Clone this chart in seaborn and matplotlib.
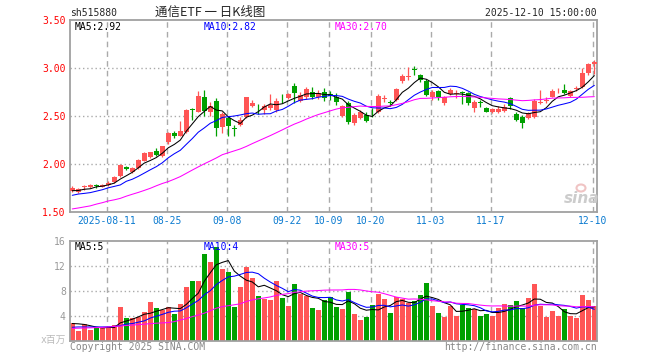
import matplotlib
matplotlib.use("Agg")
import matplotlib.pyplot as plt
from matplotlib.patches import Ellipse
import numpy as np
import pandas as pd
import seaborn as sns

# trading days 2025-08-01 .. 2025-12-10 (National Day holiday closed)
days = pd.bdate_range("2025-08-01", "2025-12-10")
days = days[(days < "2025-10-01") | (days > "2025-10-08")]

open_ = [1.725, 1.715, 1.759, 1.760, 1.780, 1.768, 1.780, 1.815, 1.880, 1.975,
         1.920, 1.960, 2.035, 2.080, 2.140, 2.090, 2.230, 2.325, 2.295, 2.340,
         2.580, 2.550, 2.700, 2.540, 2.660, 2.385, 2.480, 2.370, 2.410, 2.490,
         2.607, 2.590, 2.566, 2.583, 2.566, 2.690, 2.690, 2.815, 2.660, 2.697,
         2.757, 2.697, 2.757, 2.730, 2.705, 2.503, 2.640, 2.430, 2.486, 2.514,
         2.545, 2.550, 2.680, 2.645, 2.670, 2.865, 2.905, 2.990, 2.930, 2.870,
         2.698, 2.765, 2.635, 2.733, 2.735, 2.745, 2.746, 2.590, 2.645, 2.583,
         2.541, 2.545, 2.559, 2.687, 2.524, 2.496, 2.479, 2.496, 2.640, 2.660,
         2.705, 2.760, 2.774, 2.711, 2.785, 2.809, 2.955, 3.041]
high = [1.770, 1.750, 1.780, 1.790, 1.800, 1.790, 1.825, 1.880, 2.000, 1.980,
        1.975, 2.060, 2.130, 2.130, 2.165, 2.195, 2.340, 2.345, 2.450, 2.575,
        2.590, 2.760, 2.770, 2.650, 2.690, 2.550, 2.500, 2.410, 2.490, 2.705,
        2.675, 2.630, 2.630, 2.730, 2.687, 2.730, 2.745, 2.850, 2.756, 2.810,
        2.810, 2.770, 2.790, 2.760, 2.745, 2.617, 2.660, 2.530, 2.570, 2.540,
        2.585, 2.730, 2.720, 2.670, 2.790, 2.940, 3.010, 3.020, 2.945, 2.885,
        2.770, 2.770, 2.710, 2.790, 2.770, 2.760, 2.750, 2.670, 2.670, 2.600,
        2.590, 2.605, 2.625, 2.705, 2.548, 2.510, 2.548, 2.677, 2.770, 2.705,
        2.780, 2.790, 2.840, 2.774, 2.820, 2.998, 3.060, 3.090]
low = [1.710, 1.705, 1.735, 1.755, 1.755, 1.760, 1.770, 1.810, 1.870, 1.940,
       1.910, 1.950, 2.030, 2.070, 2.085, 2.080, 2.210, 2.270, 2.290, 2.325,
       2.460, 2.540, 2.500, 2.500, 2.300, 2.330, 2.295, 2.295, 2.400, 2.480,
       2.600, 2.525, 2.525, 2.565, 2.550, 2.640, 2.680, 2.640, 2.645, 2.680,
       2.680, 2.680, 2.660, 2.670, 2.620, 2.490, 2.420, 2.410, 2.470, 2.440,
       2.490, 2.535, 2.650, 2.610, 2.655, 2.850, 2.875, 2.935, 2.860, 2.710,
       2.670, 2.670, 2.620, 2.720, 2.690, 2.625, 2.620, 2.550, 2.600, 2.540,
       2.530, 2.535, 2.550, 2.580, 2.450, 2.375, 2.470, 2.480, 2.630, 2.635,
       2.700, 2.740, 2.735, 2.705, 2.760, 2.800, 2.930, 2.940]
close = [1.750, 1.745, 1.776, 1.780, 1.775, 1.785, 1.810, 1.870, 1.990, 1.948,
         1.965, 2.045, 2.115, 2.125, 2.100, 2.190, 2.330, 2.290, 2.350, 2.565,
         2.570, 2.710, 2.560, 2.610, 2.375, 2.525, 2.400, 2.365, 2.460, 2.700,
         2.635, 2.583, 2.607, 2.617, 2.659, 2.687, 2.729, 2.745, 2.722, 2.781,
         2.705, 2.739, 2.687, 2.710, 2.653, 2.607, 2.444, 2.515, 2.541, 2.451,
         2.541, 2.713, 2.690, 2.640, 2.780, 2.925, 2.925, 2.985, 2.875, 2.720,
         2.752, 2.705, 2.698, 2.774, 2.740, 2.740, 2.635, 2.652, 2.642, 2.548,
         2.576, 2.572, 2.600, 2.607, 2.461, 2.434, 2.531, 2.663, 2.650, 2.670,
         2.767, 2.766, 2.746, 2.767, 2.790, 2.948, 3.045, 3.069]
# volume, millions of shares
volume = [2.77, 1.60, 2.60, 1.70, 2.24, 2.08, 2.00, 2.50, 5.44, 3.68,
          3.57, 3.84, 4.64, 6.24, 5.28, 4.90, 5.33, 4.27, 5.87, 8.64,
          9.60, 9.60, 13.87, 12.64, 15.04, 11.52, 11.04, 5.44, 8.64, 11.79,
          10.08, 7.15, 6.67, 6.50, 9.60, 6.88, 5.60, 9.07, 7.47, 7.20,
          5.28, 4.90, 6.50, 6.93, 5.44, 5.12, 7.84, 4.27, 3.31, 3.84,
          5.71, 7.47, 6.67, 4.48, 6.93, 6.67, 5.97, 6.40, 7.31, 9.28,
          5.55, 4.48, 3.84, 5.55, 4.00, 5.71, 5.28, 5.01, 4.00, 4.27,
          4.00, 5.28, 5.87, 5.71, 6.40, 5.28, 6.88, 9.07, 5.55, 3.84,
          4.80, 4.00, 5.01, 4.00, 3.68, 7.31, 6.50, 5.55]

# moving averages before the window is full (history outside the chart)
price_ma5_head = [1.725, 1.727, 1.740, 1.745]
price_ma10_head = [1.677, 1.690, 1.697, 1.705, 1.720, 1.735, 1.755, 1.770, 1.785]
price_ma30_head = [1.535, 1.545, 1.556, 1.567, 1.585, 1.600, 1.618, 1.630, 1.645, 1.668,
                   1.688, 1.707, 1.728, 1.750, 1.776, 1.800, 1.820, 1.845, 1.872, 1.906,
                   1.940, 1.973, 2.005, 2.035, 2.066, 2.100, 2.120, 2.140, 2.160]
vol_ma5_head = [2.75, 2.70, 2.60, 2.40]
vol_ma10_head = [2.15, 2.20, 2.20, 2.20, 2.20, 2.20, 2.22, 2.30, 2.40]
vol_ma30_head = [1.97, 2.00, 2.03, 2.06, 2.10, 2.13, 2.20, 2.27, 2.35, 2.43,
                 2.50, 2.57, 2.65, 2.73, 2.80, 2.85, 2.90, 3.05, 3.30, 3.55,
                 3.85, 4.10, 4.40, 4.80, 5.20, 5.45, 5.60, 5.75, 5.90]

tick_dates = ["2025-08-11", "2025-08-25", "2025-09-08", "2025-09-22", "2025-10-09",
              "2025-10-20", "2025-11-03", "2025-11-17", "2025-12-10"]
price_ticks = [1.5, 2.0, 2.5, 3.0, 3.5]
vol_ticks = [4, 8, 12, 16]
price_ma_labels = ["MA5:2.92", "MA10:2.82", "MA30:2.70"]
vol_ma_labels = ["MA5:5", "MA10:4", "MA30:5"]

RED, GREEN = "#ff5555", "#00a000"
MA_COLORS = ["black", "#0000ff", "#ff00ff"]
GRID = "#aaaaaa"
MONO = "DejaVu Sans Mono"


def moving(values, n, head):
    ma = pd.Series(values).rolling(n).mean().to_numpy()
    ma[:n - 1] = head
    return ma


df = pd.DataFrame(dict(open=open_, high=high, low=low, close=close, vol=volume))
df["i"] = np.arange(len(df))
df["up"] = df["close"] >= df["open"]
colors = np.where(df["up"], RED, GREEN)

price_ma = [moving(close, 5, price_ma5_head), moving(close, 10, price_ma10_head),
            moving(close, 30, price_ma30_head)]
vol_ma = [moving(volume, 5, vol_ma5_head), moving(volume, 10, vol_ma10_head),
          moving(volume, 30, vol_ma30_head)]

sns.set_theme(style="white")
plt.rcParams["font.family"] = [MONO, "Noto Sans CJK SC"]

W, H = 660, 360
fig = plt.figure(figsize=(W / 100, H / 100), dpi=100)
L, R = 70, 597
ax = fig.add_axes([L / W, 1 - 212.3 / H, (R - L) / W, 192 / H])
axv = fig.add_axes([L / W, 1 - 340.7 / H, (R - L) / W, 100 / H])

tick_pos = [days.get_loc(pd.Timestamp(d)) for d in tick_dates]
tick_lab = [tick_dates[0]] + [d[5:] for d in tick_dates[1:]]

for a in (ax, axv):
    a.set_xlim(-0.38, len(df) - 0.55)
    for p in tick_pos:
        a.axvline(p - 0.25, color=GRID, lw=1, ls=(0, (4, 3)), zorder=0)
    for s in a.spines.values():
        s.set_color("#a0a0a0")
        s.set_linewidth(1.3)
    a.set_xticks([])
    a.tick_params(axis="y", length=0, pad=3, labelsize=7)

# candles
ax.vlines(df["i"], df["low"], df["high"], colors=colors, lw=0.9, zorder=2)
body = np.maximum((df["close"] - df["open"]).abs(), 0.008)
ax.bar(df["i"], body, bottom=np.minimum(df["open"], df["close"]), width=0.75,
       color=colors, lw=0, zorder=3)
for ma, c in zip(price_ma, MA_COLORS):
    sns.lineplot(x=df["i"], y=ma, color=c, lw=0.75, ax=ax, zorder=4)
ax.set_ylim(1.5, 3.5)
ax.set_yticks(price_ticks)
ax.set_yticklabels([f"{t:.2f}" for t in price_ticks], color="red")
for t in price_ticks[1:-1]:
    ax.axhline(t, color=GRID, lw=1, ls=(0, (1, 2)), zorder=0)
ax.set_xlabel("")
ax.set_ylabel("")

# volume
axv.bar(df["i"], df["vol"], width=0.82, color=colors, lw=0, zorder=2)
for ma, c in zip(vol_ma, MA_COLORS):
    sns.lineplot(x=df["i"], y=ma, color=c, lw=0.75, ax=axv, zorder=4)
axv.set_ylim(0, 16)
axv.set_yticks(vol_ticks)
axv.set_yticklabels([str(t) for t in vol_ticks], color="#999999")
for t in vol_ticks[:-1]:
    axv.axhline(t, color=GRID, lw=1, ls=(0, (1, 2)), zorder=0)
axv.set_xlabel("")
axv.set_ylabel("")


def put(x, y, s, **kw):
    kw.setdefault("fontsize", 7)
    kw.setdefault("va", "center")
    fig.text(x / W, 1 - y / H, s, **kw)


# header
put(70, 13, "sh515880")
put(210, 12.5, "通信ETF 一 日K线图", ha="center", fontsize=9,
    family=["Noto Sans CJK SC", MONO])
put(597, 13, "2025-12-10 15:00:00", ha="right")

for x0, s, c in zip([75, 204, 335], price_ma_labels, MA_COLORS):
    put(x0, 27, s, color=c)
for x0, s, c in zip([75, 204, 335], vol_ma_labels, MA_COLORS):
    put(x0, 246.5, s, color=c)

# date labels between the panels
for p, s in zip(tick_pos, tick_lab):
    put(70.8 + 6 * p, 221.5, s, ha="center", color="#0a7ad0")

put(66, 339.5, "x百万", ha="right", color="#bbbbbb",
    family=[MONO, "Noto Sans CJK SC"])
put(70, 346.5, "Copyright 2025 SINA.COM", color="#888888")
put(597, 346.5, "http://finance.sina.com.cn", ha="right", color="#888888")

# faint sina watermark
fig.patches.append(Ellipse((581 / W, 1 - 188 / H), 9 / W, 7 / H, transform=fig.transFigure,
                           facecolor="none", edgecolor="#f0c4c4", lw=1.5))
put(582, 198, "sina", ha="center", fontsize=11, color="#cccccc",
    family="DejaVu Sans", style="italic", weight="bold")

fig.savefig("out.png", dpi=100, facecolor="white")
